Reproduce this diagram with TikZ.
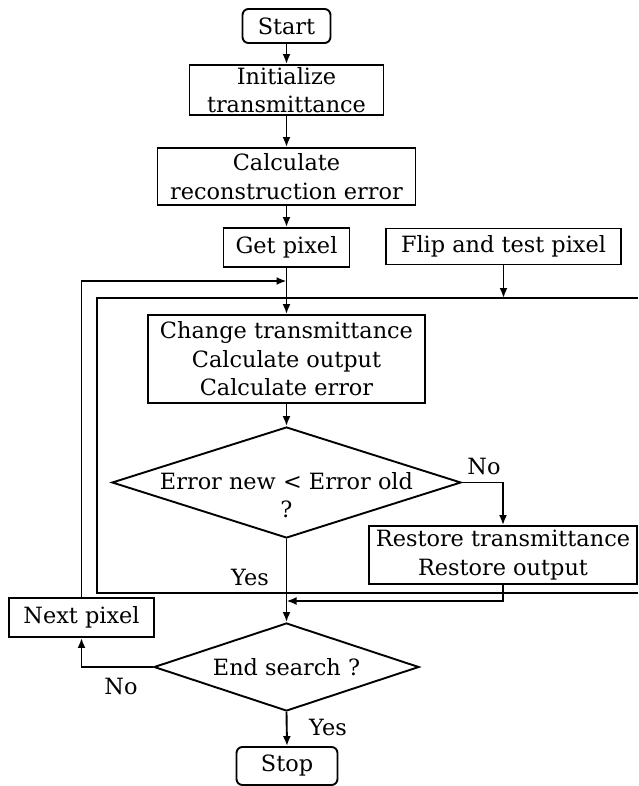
\documentclass[tikz,border=0pt]{standalone}
\usepackage{fontspec}
\setmainfont{DejaVu Serif}
\usetikzlibrary{shapes.geometric,arrows.meta}

\tikzset{
  box/.style={draw,line width=1.9pt,inner sep=0pt,align=center},
  term/.style={box,rounded corners=6pt},
  decision/.style={draw,diamond,line width=1.9pt,inner sep=0pt},
  wire/.style={line width=1.9pt},
  flow/.style={wire,-{Latex[length=10pt,width=8pt]}},
}

\begin{document}
\begin{tikzpicture}[x=1pt,y=-1pt,font=\fontsize{22.4}{28.5}\selectfont]
    \useasboundingbox (0,0) rectangle (638,786);

    % main column
    \node[term,minimum width=88pt,minimum height=34pt] (start) at (286.5,26) {Start};
    \node[box,minimum width=194pt,minimum height=50pt] (init) at (286.5,90) {Initialize\\transmittance};
    \node[box,minimum width=258pt,minimum height=57pt] (calc) at (286.5,176.5) {Calculate\\reconstruction error};
    \node[box,minimum width=126pt,minimum height=39pt] (get) at (286.5,247.5) {Get pixel};
    \node[box,minimum width=235pt,minimum height=36pt] (flip) at (503.5,246.5) {Flip and test pixel};
    \node[box,minimum width=277pt,minimum height=88pt] (change) at (286.5,359)
        {Change transmittance\\Calculate output\\Calculate error};
    \node[decision,minimum width=349pt,minimum height=111pt] (test) at (286.5,482.5) {};
    \node[align=center] (testtext) at (286.5,495) {Error new < Error old\\?};
    \node[box,minimum width=268pt,minimum height=58pt] (restore) at (503,555)
        {Restore transmittance\\Restore output};
    \node[box,minimum width=145pt,minimum height=39pt] (next) at (81.5,617.5) {Next pixel};
    \node[decision,minimum width=265pt,minimum height=88pt] (endq) at (286.5,667) {};
    \node (endtext) at (286.5,667) {End search ?};
    \node[term,minimum width=101pt,minimum height=38pt] (stop) at (287,766) {Stop};

    % branch labels
    \node (no1) at (484,466) {No};
    \node (yes1) at (250,577) {Yes};
    \node (no2) at (121,686) {No};
    \node (yes2) at (328,727) {Yes};

    % loop corners
    \coordinate (loopNE) at (638,298);
    \coordinate (loopNW) at (97,298);
    \coordinate (loopSW) at (97,593);
    \coordinate (loopSE) at (638,593);
    \coordinate (back) at (286.5,281);
    \coordinate (merge) at (286.5,601);

    \draw[flow] (start) -- (init);
    \draw[flow] (init) -- (calc);
    \draw[flow] (calc) -- (get);
    \draw[flow] (get) -- (change);
    \draw[flow] (change) -- (test.north);
    \draw[flow] (test.east) -| (restore.north);
    \draw[flow] (test.south) -- (endq.north);
    \draw[flow] (restore.south) |- (merge);
    \draw[flow] (endq.west) -| (next.south);
    \draw[flow] (next.north) |- (back);
    \draw[flow] (endq.south) -- (stop.north);
    \draw[flow] (flip.south) -- (flip.south |- loopNE);
    \draw[wire] (loopNE) -- (loopNW) -- (loopSW) -- (loopSE);
\end{tikzpicture}
\end{document}
